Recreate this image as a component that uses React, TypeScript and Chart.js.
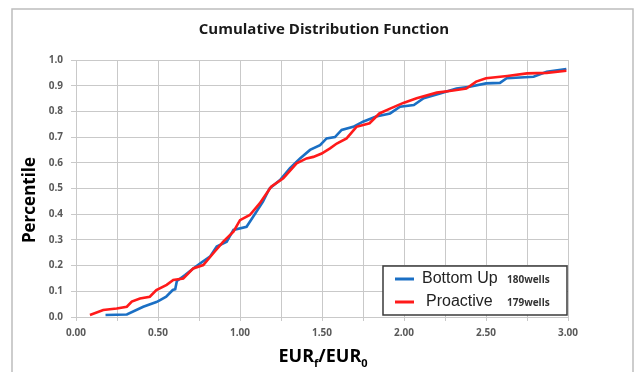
import React, { useEffect, useRef } from "react";
import { Chart, registerables } from "chart.js";

Chart.register(...registerables);

const TITLE = "Cumulative Distribution Function";
const Y_TITLE = "Percentile";
const SERIES_NAMES = ["Bottom Up", "Proactive"];
const SERIES_NOTES = ["180wells", "179wells"];

const bottomUpX = [0.18, 0.31, 0.41, 0.49, 0.51, 0.55, 0.59, 0.605, 0.615, 0.665, 0.715, 0.756, 0.817, 0.858, 0.919, 0.96, 1.04, 1.08, 1.14, 1.18, 1.244, 1.305, 1.366, 1.427, 1.488, 1.528, 1.579, 1.62, 1.69, 1.75, 1.83, 1.915, 1.976, 2.06, 2.12, 2.22, 2.32, 2.4, 2.5, 2.585, 2.626, 2.79, 2.87, 2.99];
const bottomUpY = [0.008, 0.01, 0.04, 0.058, 0.065, 0.079, 0.105, 0.108, 0.14, 0.163, 0.189, 0.208, 0.235, 0.274, 0.293, 0.339, 0.351, 0.39, 0.449, 0.5, 0.533, 0.579, 0.617, 0.65, 0.669, 0.695, 0.7, 0.728, 0.74, 0.76, 0.78, 0.792, 0.818, 0.825, 0.851, 0.87, 0.889, 0.896, 0.909, 0.911, 0.929, 0.935, 0.954, 0.965];

const proactiveX = [0.085, 0.166, 0.248, 0.31, 0.34, 0.39, 0.45, 0.49, 0.553, 0.593, 0.654, 0.715, 0.776, 0.837, 0.898, 0.96, 1.0, 1.06, 1.12, 1.19, 1.264, 1.345, 1.406, 1.447, 1.498, 1.549, 1.59, 1.65, 1.71, 1.79, 1.85, 1.915, 1.996, 2.077, 2.2, 2.3, 2.38, 2.44, 2.5, 2.63, 2.75, 2.87, 2.99];
const proactiveY = [0.008, 0.027, 0.033, 0.04, 0.06, 0.072, 0.079, 0.105, 0.125, 0.144, 0.15, 0.189, 0.202, 0.248, 0.293, 0.332, 0.377, 0.397, 0.442, 0.507, 0.54, 0.598, 0.617, 0.623, 0.636, 0.656, 0.675, 0.695, 0.74, 0.754, 0.792, 0.811, 0.833, 0.851, 0.873, 0.881, 0.889, 0.916, 0.929, 0.938, 0.948, 0.95, 0.958];

const BLUE = "#1a6fc4";
const RED = "#ff1a1a";
const GRID = "#c9c9c9";

const decor = {
  id: "decor",
  beforeDraw(chart: any) {
    const ctx = chart.ctx;
    ctx.save();
    ctx.fillStyle = "#ffffff";
    ctx.fillRect(0, 0, chart.width, chart.height);
    ctx.strokeStyle = "#bdbdbd";
    ctx.lineWidth = 1.5;
    ctx.beginPath();
    ctx.moveTo(12, chart.height);
    ctx.lineTo(12, 9);
    ctx.lineTo(633, 9);
    ctx.lineTo(633, chart.height);
    ctx.stroke();
    ctx.restore();
  },
  afterDraw(chart: any) {
    const ctx = chart.ctx;
    const area = chart.chartArea;
    ctx.save();
    // title
    ctx.fillStyle = "#1a1a1a";
    ctx.font = "bold 15px 'Open Sans'";
    ctx.textAlign = "center";
    ctx.textBaseline = "middle";
    ctx.fillText(TITLE, (area.left + area.right) / 2 + 2, 30);
    // y title
    ctx.save();
    ctx.translate(30, 200);
    ctx.rotate(-Math.PI / 2);
    ctx.font = "bold 17px 'Open Sans'";
    ctx.fillStyle = "#000";
    ctx.fillText(Y_TITLE, 0, 0);
    ctx.restore();
    // x title with subscripts
    const big = "bold 18px 'Open Sans'";
    const small = "bold 11px 'Open Sans'";
    const parts: [string, string, number][] = [
      ["EUR", big, 0],
      ["f", small, 5],
      ["/EUR", big, 0],
      ["0", small, 5],
    ];
    let total = 0;
    for (const [t, f] of parts) {
      ctx.font = f;
      total += ctx.measureText(t).width;
    }
    let x = 323 - total / 2;
    ctx.textAlign = "left";
    ctx.textBaseline = "alphabetic";
    ctx.fillStyle = "#000";
    for (const [t, f, dy] of parts) {
      ctx.font = f;
      ctx.fillText(t, x, 362 + dy);
      x += ctx.measureText(t).width;
    }
    // legend
    const bx = 383, by = 266, bw = 184, bh = 49;
    ctx.fillStyle = "#ffffff";
    ctx.fillRect(bx, by, bw, bh);
    ctx.strokeStyle = "#3a3a3a";
    ctx.lineWidth = 1.5;
    ctx.strokeRect(bx, by, bw, bh);
    const rows = [
      { color: BLUE, y: 279, name: SERIES_NAMES[0], note: SERIES_NOTES[0], tx: 422 },
      { color: RED, y: 302, name: SERIES_NAMES[1], note: SERIES_NOTES[1], tx: 426 },
    ];
    for (const r of rows) {
      ctx.strokeStyle = r.color;
      ctx.lineWidth = 3;
      ctx.beginPath();
      ctx.moveTo(395, r.y);
      ctx.lineTo(414, r.y);
      ctx.stroke();
      ctx.fillStyle = "#222";
      ctx.font = "16px 'Liberation Sans'";
      ctx.textBaseline = "middle";
      ctx.fillText(r.name, r.tx, r.y);
      ctx.font = "bold 10px 'Open Sans'";
      ctx.fillStyle = "#333";
      ctx.fillText(r.note, 507, r.y + 1);
    }
    ctx.restore();
  },
};

export default function App() {
  const ref = useRef<HTMLCanvasElement>(null);
  useEffect(() => {
    document.body.style.margin = "0";
    const blue = bottomUpX.map((x, i) => ({ x, y: bottomUpY[i] }));
    const red = proactiveX.map((x, i) => ({ x, y: proactiveY[i] }));
    const chart = new Chart(ref.current!, {
      type: "line",
      data: {
        datasets: [
          { label: SERIES_NAMES[0], data: blue, borderColor: BLUE, borderWidth: 2.6, pointRadius: 0, tension: 0, order: 1 },
          { label: SERIES_NAMES[1], data: red, borderColor: RED, borderWidth: 2.6, pointRadius: 0, tension: 0, order: 0 },
        ],
      },
      options: {
        responsive: false,
        animation: false,
        layout: { padding: { left: 0, top: 60, right: 67, bottom: 0 } },
        plugins: { legend: { display: false }, title: { display: false }, tooltip: { enabled: false } },
        scales: {
          x: {
            type: "linear",
            min: 0,
            max: 3,
            afterFit: (s: any) => { s.height = 55; },
            grid: { color: GRID, tickLength: 4, lineWidth: 1 },
            border: { color: GRID },
            ticks: {
              stepSize: 0.25,
              autoSkip: false,
              maxRotation: 0,
              padding: 6,
              color: "#595959",
              font: { family: "'Open Sans'", size: 10, weight: "bold" },
              callback: (v: any) => (Math.round(v * 100) % 50 === 0 ? Number(v).toFixed(2) : ""),
            },
          },
          y: {
            min: 0,
            max: 1,
            afterFit: (s: any) => { s.width = 76; },
            grid: { color: GRID, tickLength: 5, lineWidth: 1 },
            border: { color: GRID },
            ticks: {
              stepSize: 0.1,
              padding: 8,
              color: "#595959",
              font: { family: "'Open Sans'", size: 10, weight: "bold" },
              callback: (v: any) => Number(v).toFixed(1),
            },
          },
        },
      },
      plugins: [decor],
    });
    return () => chart.destroy();
  }, []);
  return (
    <div style={{ width: 635, height: 372 }}>
      <canvas ref={ref} width={635} height={372} />
    </div>
  );
}
